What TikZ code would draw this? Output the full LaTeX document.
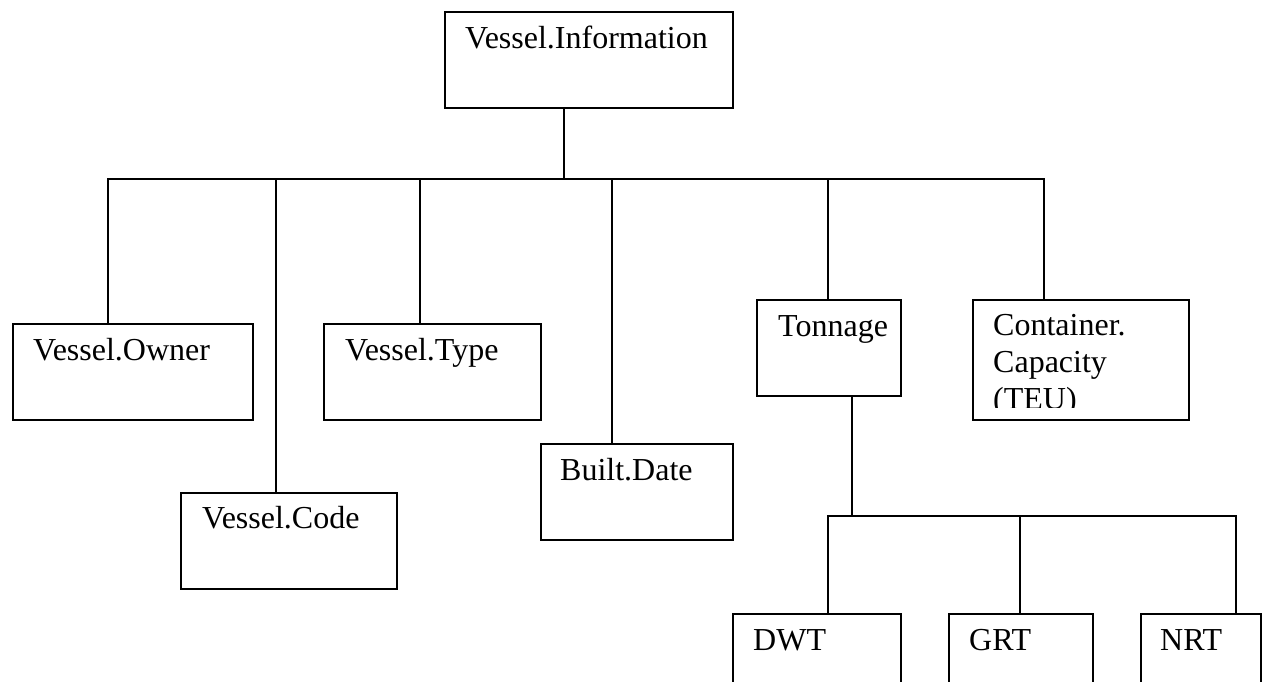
\documentclass[tikz,border=0pt]{standalone}
\usepackage{fontspec}
\setmainfont{Liberation Serif}
\usetikzlibrary{calc}
\begin{document}
\begin{tikzpicture}[x=1pt,y=-1pt,
  box/.style={draw, line width=1.8pt, inner sep=0pt, anchor=north west},
  lbl/.style={anchor=base west, inner sep=0pt, font=\fontsize{32}{37}\selectfont},
  conn/.style={line width=1.8pt}]
\useasboundingbox (0,0) rectangle (1266,681);
\clip (0,0) rectangle (1266,681);
% boxes
\node[box, minimum width=288pt, minimum height=96pt] (info) at (444,11) {};
\node[box, minimum width=240pt, minimum height=96pt] (owner) at (12,323) {};
\node[box, minimum width=216pt, minimum height=96pt] (code) at (180,492) {};
\node[box, minimum width=217pt, minimum height=96pt] (type) at (323,323) {};
\node[box, minimum width=192pt, minimum height=96pt] (built) at (540,443) {};
\node[box, minimum width=144pt, minimum height=96pt] (ton) at (756,299) {};
\node[box, minimum width=216pt, minimum height=120pt] (cont) at (972,299) {};
\node[box, minimum width=168pt, minimum height=96pt] (dwt) at (732,613) {};
\node[box, minimum width=144pt, minimum height=96pt] (grt) at (948,613) {};
\node[box, minimum width=120pt, minimum height=96pt] (nrt) at (1140,613) {};
% texts
\node[lbl] (infoT) at ($(info.north west)+(21,37)$) {Vessel.Information};
\node[lbl] (ownerT) at ($(owner.north west)+(21,37)$) {Vessel.Owner};
\node[lbl] (codeT) at ($(code.north west)+(22,36)$) {Vessel.Code};
\node[lbl] (typeT) at ($(type.north west)+(22,37)$) {Vessel.Type};
\node[lbl] (builtT) at ($(built.north west)+(20,37)$) {Built.Date};
\node[lbl] (tonT) at ($(ton.north west)+(22,37)$) {Tonnage};
\node[lbl] (cont1) at ($(cont.north west)+(21,36)$) {Container.};
\node[lbl] (cont2) at ($(cont.north west)+(21,73)$) {Capacity};
\begin{scope}
\clip (972,299) rectangle (1188,407);
\node[lbl] (cont3) at ($(cont.north west)+(21,110)$) {(TEU)};
\end{scope}
\node[lbl] (dwtT) at ($(dwt.north west)+(21,37)$) {DWT};
\node[lbl] (grtT) at ($(grt.north west)+(21,37)$) {GRT};
\node[lbl] (nrtT) at ($(nrt.north west)+(20,37)$) {NRT};
% connector coordinates
\coordinate (bus) at (0,179);
\coordinate (bus2) at (0,516);
\coordinate (dInfo) at (564,0);
\coordinate (dOwner) at (108,0);
\coordinate (dCode) at (276,0);
\coordinate (dType) at (420,0);
\coordinate (dBuilt) at (612,0);
\coordinate (dTon) at (828,0);
\coordinate (dCont) at (1044,0);
\coordinate (uTon) at (852,0);
\coordinate (dDwt) at (828,0);
\coordinate (dGrt) at (1020,0);
\coordinate (dNrt) at (1236,0);
% level 1
\draw[conn] (dInfo |- info.south) -- (dInfo |- bus);
\draw[conn] (dOwner |- owner.north) -- (dOwner |- bus) -- (dCont |- bus) -- (dCont |- cont.north);
\draw[conn] (dCode |- bus) -- (dCode |- code.north);
\draw[conn] (dType |- bus) -- (dType |- type.north);
\draw[conn] (dBuilt |- bus) -- (dBuilt |- built.north);
\draw[conn] (dTon |- bus) -- (dTon |- ton.north);
% level 2
\draw[conn] (uTon |- ton.south) -- (uTon |- bus2);
\draw[conn] (dDwt |- dwt.north) -- (dDwt |- bus2) -- (dNrt |- bus2) -- (dNrt |- nrt.north);
\draw[conn] (dGrt |- bus2) -- (dGrt |- grt.north);
\end{tikzpicture}
\end{document}
